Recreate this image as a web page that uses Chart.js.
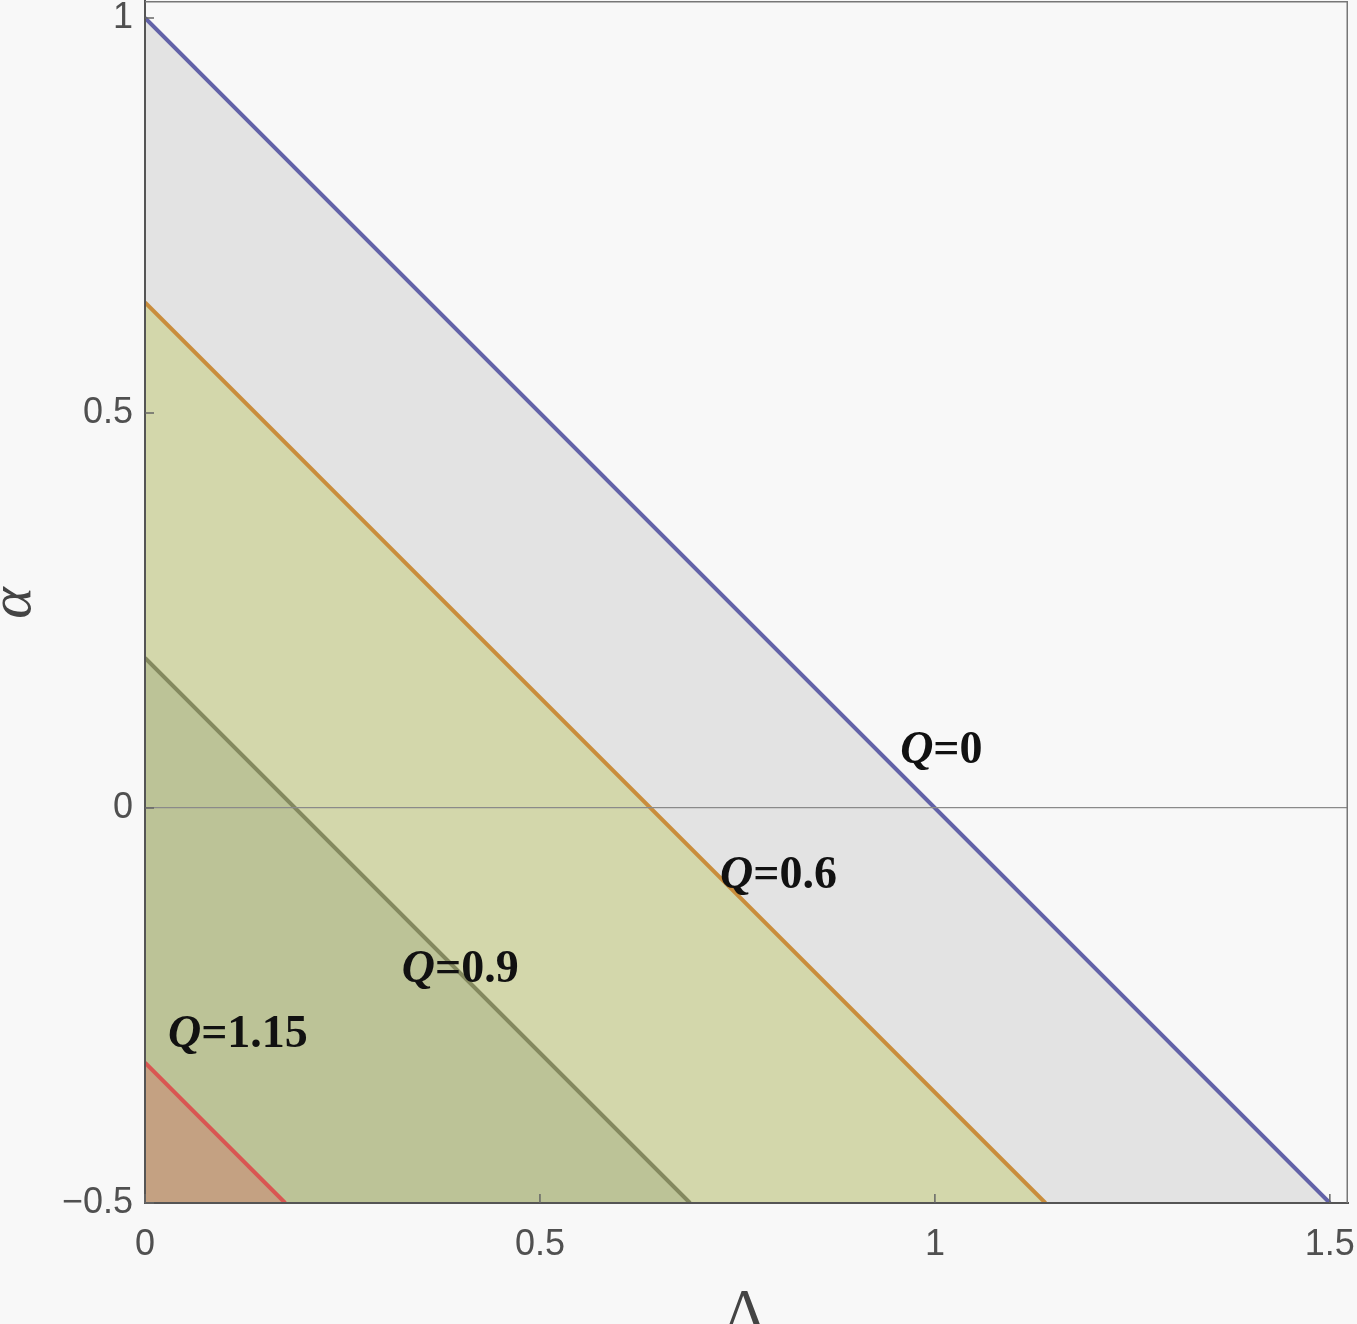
<!DOCTYPE html>
<html>
<head>
<meta charset="utf-8">
<script src="https://cdn.jsdelivr.net/npm/chart.js@4/dist/chart.umd.min.js"></script>
<style>
  html, body { margin: 0; padding: 0; background: #f8f8f8; }
  #wrap { width: 1357px; height: 1324px; position: relative; }
</style>
</head>
<body>
<div id="wrap"><canvas id="myChart"></canvas></div>
<script>
// contour lines alpha = 1 - Q^2 - Lambda
var qValues = [0, 0.6, 0.9, 1.15];
var qNames = ["0", "0.6", "0.9", "1.15"];
var lambdaStart = [0, 0, 0, 0];
var alphaStart = [1, 0.64, 0.19, -0.3225];
var lambdaEnd = [1.5, 1.14, 0.69, 0.1775];
var alphaEnd = [-0.5, -0.5, -0.5, -0.5];
var xTicks = [0, 0.5, 1, 1.5];
var yTicks = [-0.5, 0, 0.5, 1];

var lineColors = ["#6262a8", "#c98d3c", "#84895f", "#d95652"];
var fillColors = ["#e3e3e3", "#d3d7ab", "#bcc397", "#c4a182"];

// where the Q=... labels sit (left edge, baseline) in data units
var labelAt = [[0.956, 0.057], [0.728, -0.101], [0.325, -0.220], [0.029, -0.3025]];

function fmt(v) {
  if (v < 0) return "\u2212" + String(-v);
  return String(v);
}

var datasets = qValues.map(function (q, i) {
  return {
    label: "Q=" + qNames[i],
    data: [{x: lambdaStart[i], y: alphaStart[i]}, {x: lambdaEnd[i], y: alphaEnd[i]}],
    showLine: true,
    borderColor: lineColors[i],
    borderWidth: 4,
    backgroundColor: fillColors[i],
    fill: "start",
    pointRadius: 0,
    order: qValues.length - i
  };
});

var framePlugin = {
  id: "frame",
  afterDraw: function (chart) {
    var c = chart.ctx, a = chart.chartArea;
    var xs = chart.scales.x, ys = chart.scales.y;
    c.save();
    // top and right frame
    c.strokeStyle = "#777";
    c.lineWidth = 1.5;
    c.beginPath();
    c.moveTo(a.left, a.top + 0.75);
    c.lineTo(a.right - 0.75, a.top + 0.75);
    c.lineTo(a.right - 0.75, a.bottom);
    c.stroke();
    // inward ticks
    c.strokeStyle = "#666";
    c.lineWidth = 1.5;
    c.beginPath();
    xTicks.forEach(function (v) {
      var px = xs.getPixelForValue(v);
      c.moveTo(px, a.bottom);
      c.lineTo(px, a.bottom - 9);
    });
    yTicks.forEach(function (v) {
      var py = ys.getPixelForValue(v);
      c.moveTo(a.left, py);
      c.lineTo(a.left + 9, py);
    });
    c.stroke();

    // Q labels
    c.fillStyle = "#111";
    c.textBaseline = "alphabetic";
    c.textAlign = "left";
    qNames.forEach(function (n, i) {
      var px = xs.getPixelForValue(labelAt[i][0]);
      var py = ys.getPixelForValue(labelAt[i][1]);
      c.font = "italic bold 46px 'Liberation Serif'";
      c.fillText("Q", px, py);
      var w = c.measureText("Q").width;
      c.font = "bold 46px 'Liberation Serif'";
      c.fillText("=" + n, px + w, py);
    });

    // axis titles
    c.fillStyle = "#444";
    c.font = "60px 'Liberation Serif'";
    c.textAlign = "center";
    c.fillText("\u039b", 745, 1330);
    c.save();
    c.translate(30, 603);
    c.rotate(-Math.PI / 2);
    c.font = "italic 60px 'Liberation Serif'";
    c.fillText("\u03b1", 0, 0);
    c.restore();
    c.restore();
  }
};

const ctx = document.getElementById("myChart").getContext("2d");
let myChart = new Chart(ctx, {
  type: "scatter",
  data: { datasets: datasets },
  options: {
    responsive: true,
    maintainAspectRatio: false,
    animation: false,
    layout: { padding: { left: 0, top: 1, right: 9, bottom: 0 } },
    scales: {
      x: {
        type: "linear",
        min: 0,
        max: 1.523,
        afterBuildTicks: function (s) { s.ticks = xTicks.map(function (v) { return {value: v}; }); },
        afterFit: function (s) { s.height = 121; s.paddingLeft = 0; s.paddingRight = 0; },
        grid: { display: true, drawOnChartArea: false, drawTicks: false },
        border: { color: "#555", width: 2, z: 2 },
        ticks: {
          padding: 20,
          maxRotation: 0,
          autoSkip: false,
          color: "#505050",
          font: { family: "'Liberation Sans'", size: 36 },
          callback: function (v) { return fmt(v); }
        }
      },
      y: {
        type: "linear",
        min: -0.5,
        max: 1.0215,
        afterBuildTicks: function (s) { s.ticks = yTicks.map(function (v) { return {value: v}; }); },
        afterFit: function (s) { s.width = 145; s.paddingTop = 0; s.paddingBottom = 0; },
        grid: {
          z: 1,
          drawTicks: false,
          color: function (c) { return c.tick && c.tick.value === 0 ? "#8a8a8a" : "rgba(0,0,0,0)"; },
          lineWidth: 1.2
        },
        border: { color: "#555", width: 2, z: 2 },
        ticks: {
          padding: 12,
          autoSkip: false,
          color: "#505050",
          font: { family: "'Liberation Sans'", size: 36 },
          callback: function (v) { return fmt(v); }
        }
      }
    },
    plugins: {
      legend: { display: false },
      tooltip: { enabled: false }
    }
  },
  plugins: [framePlugin]
});
</script>
</body>
</html>
